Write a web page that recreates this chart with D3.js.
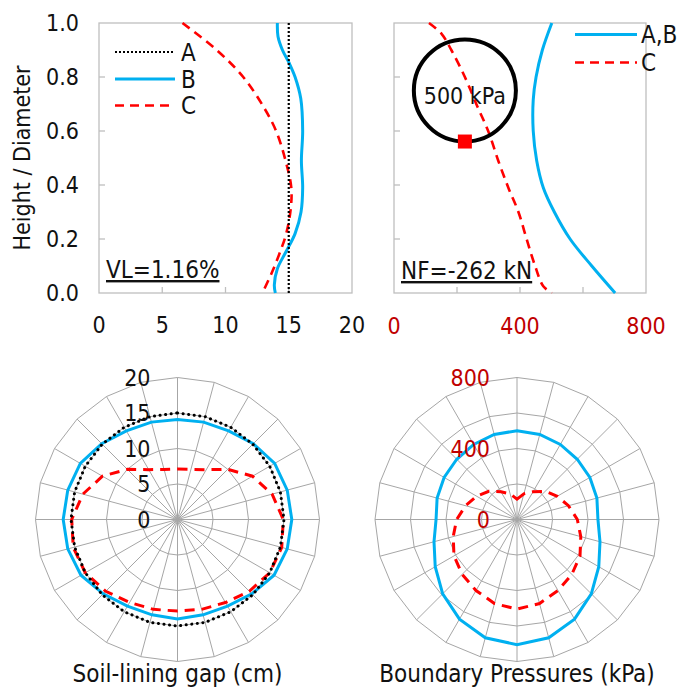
<!DOCTYPE html>
<html>
<head>
<meta charset="utf-8">
<script src="https://cdn.jsdelivr.net/npm/d3@7"></script>
<style>
  body { margin: 0; background: #fff; }
  text { font-family: "DejaVu Sans Condensed", "DejaVu Sans", sans-serif; fill: #111; }
</style>
</head>
<body>
<div class="chart"></div>
<script>
// Set up sizes
var svgWidth = 679;
var svgHeight = 689;

var blue = "#00b0f0";
var red = "#ff0000";
var darkRed = "#c00000";
var frameCol = "#bfbfbf";
var gridCol = "#a6a6a6";
var fs = 23;   // tick labels
var fsText = 24; // titles, legends, notes

// ---- data: top left (soil-lining gap, cm) ----
var gapTicks = [0, 5, 10, 15, 20];
var heightTicks = [0, 0.2, 0.4, 0.6, 0.8, 1.0];
var gapHeightA = [1.0, 0.0];
var gapA = [15, 15];
var gapHeightB = [1.0, 0.95, 0.9, 0.85, 0.8, 0.72, 0.6, 0.49, 0.39, 0.3, 0.22, 0.15, 0.09, 0.03, 0.0];
var gapB = [14.1, 14.15, 14.5, 15.05, 15.5, 15.95, 16.1, 16.0, 16.1, 15.97, 15.5, 14.75, 14.1, 13.86, 13.94];
var gapHeightC = [1.0, 0.9, 0.8, 0.69, 0.6, 0.49, 0.39, 0.31, 0.22, 0.15, 0.074, 0.012];
var gapC = [6.6, 9.3, 11.4, 13.0, 14.0, 14.75, 15.2, 15.15, 14.8, 14.3, 13.65, 13.04];

// ---- data: top right (boundary pressure, kPa) ----
var presTicks = [0, 400, 800];
var presMinorTicks = [200, 400, 600];
var presHeightAB = [1.0, 0.9, 0.8, 0.715, 0.6, 0.49, 0.39, 0.3, 0.2, 0.1, 0.0];
var presAB = [501, 471, 451, 442, 442, 453, 474, 509, 559, 628, 702];
var presHeightC = [1.0, 0.96, 0.9, 0.8, 0.69, 0.6, 0.49, 0.39, 0.3, 0.2, 0.1, 0.025, 0.0];
var presC = [111, 151, 182, 225, 265, 299, 331, 363, 395, 421, 448, 474, 501];
// annotation circle (kPa, height) and its radius in height units
var annotCentre = [225, 0.75];
var annotRadius = 0.189;

// ---- data: radar charts, 24 spokes clockwise from top ----
var gapRings = [5, 10, 15, 20];
var gapRingLabels = [0, 5, 10, 15, 20];
var radarGapA = [15, 15, 15, 15, 15, 15, 15, 15, 15, 15, 15, 15, 15, 15, 15, 15, 15, 15, 15, 15, 15, 15, 15, 15];
var radarGapB = [14.1, 14.2, 14.4, 15.1, 15.8, 16.0, 16.1, 16.0, 15.7, 14.8, 14.1, 13.9, 14.0, 13.9, 14.1, 14.8, 15.7, 16.0, 16.1, 16.0, 15.8, 15.1, 14.4, 14.2];
var radarGapC = [7.1, 7.3, 8.1, 10.0, 12.2, 13.8, 14.9, 15.2, 15.0, 14.3, 13.5, 13.1, 12.9, 13.1, 13.5, 14.3, 15.0, 15.2, 14.9, 13.8, 12.2, 10.0, 8.1, 7.3];

var presRings = [200, 400, 600, 800];
var presRingLabels = [0, 400, 800];
var radarPresAB = [500, 496, 488, 480, 474, 466, 456, 484, 532, 592, 648, 690, 705, 690, 648, 592, 532, 484, 456, 466, 474, 480, 488, 496];
var radarPresC = [115, 150, 180, 225, 262, 300, 340, 372, 410, 437, 462, 490, 505, 490, 462, 437, 410, 372, 340, 300, 262, 225, 180, 150];

var svg = d3.select(".chart")
  .append("svg")
  .attr("width", svgWidth)
  .attr("height", svgHeight);

// ---------- top panels ----------
var panelTop = 23, panelBottom = 293;

var xGap = d3.scaleLinear().domain([0, 20]).range([99, 352]);
var xPres = d3.scaleLinear().domain([0, 800]).range([394, 646]);
var yH = d3.scaleLinear().domain([0, 1]).range([panelBottom, panelTop]);

function drawFrame(xScale, xInner, yInner) {
  var g = svg.append("g");
  var r = xScale.range();
  g.append("rect")
    .attr("x", r[0]).attr("y", panelTop)
    .attr("width", r[1] - r[0]).attr("height", panelBottom - panelTop)
    .attr("fill", "none").attr("stroke", frameCol).attr("stroke-width", 1.3);
  g.selectAll(".xt").data(xInner).enter().append("line")
    .attr("x1", d => xScale(d)).attr("x2", d => xScale(d))
    .attr("y1", panelBottom).attr("y2", panelBottom - 6)
    .attr("stroke", frameCol).attr("stroke-width", 1.3);
  g.selectAll(".yt").data(yInner).enter().append("line")
    .attr("x1", r[0]).attr("x2", r[0] + 6)
    .attr("y1", d => yH(d)).attr("y2", d => yH(d))
    .attr("stroke", frameCol).attr("stroke-width", 1.3);
  return g;
}

function zipPts(xs, hs) {
  return xs.map((v, i) => [v, hs[i]]);
}

// top left
drawFrame(xGap, [5, 10, 15], [0.2, 0.4, 0.6, 0.8]);

svg.selectAll(".gapXLab").data(gapTicks).enter().append("text")
  .attr("x", d => xGap(d)).attr("y", 333)
  .attr("text-anchor", "middle").attr("font-size", fs)
  .text(d => d);

svg.selectAll(".hLab").data(heightTicks).enter().append("text")
  .attr("x", 79).attr("y", d => yH(d))
  .attr("dy", "0.36em")
  .attr("text-anchor", "end").attr("font-size", fs)
  .text(d => d.toFixed(1));

svg.append("text")
  .attr("transform", "translate(22," + yH(0.5) + ") rotate(-90)")
  .attr("dy", "0.36em")
  .attr("text-anchor", "middle").attr("font-size", fs)
  .text("Height / Diameter");

var gapLine = d3.line()
  .x(d => xGap(d[0])).y(d => yH(d[1]))
  .curve(d3.curveCatmullRom.alpha(0.5));

svg.append("path").datum(zipPts(gapC, gapHeightC))
  .attr("d", gapLine).attr("fill", "none")
  .attr("stroke", red).attr("stroke-width", 2.6).attr("stroke-dasharray", "9,6");
svg.append("path").datum(zipPts(gapB, gapHeightB))
  .attr("d", gapLine).attr("fill", "none")
  .attr("stroke", blue).attr("stroke-width", 3);
svg.append("path").datum(zipPts(gapA, gapHeightA))
  .attr("d", gapLine).attr("fill", "none")
  .attr("stroke", "#000").attr("stroke-width", 2.2).attr("stroke-dasharray", "2,2");

// legend top left
var legTL = [
  { name: "A", col: "#000", dash: "2,2", w: 2.2, y: 52 },
  { name: "B", col: blue, dash: null, w: 3, y: 79 },
  { name: "C", col: red, dash: "9,6", w: 2.6, y: 105.5 }
];
legTL.forEach(function(l) {
  svg.append("line").attr("x1", 115).attr("x2", 175).attr("y1", l.y).attr("y2", l.y)
    .attr("stroke", l.col).attr("stroke-width", l.w).attr("stroke-dasharray", l.dash);
  svg.append("text").attr("x", 181).attr("y", l.y).attr("dy", "0.36em")
    .attr("font-size", fsText).text(l.name);
});

svg.append("text")
  .attr("x", 106).attr("y", 278)
  .attr("font-size", fsText)
  .style("text-decoration", "underline")
  .text("VL=1.16%");

// top right
drawFrame(xPres, presMinorTicks, [0.2, 0.4, 0.6, 0.8]);

svg.selectAll(".presXLab").data(presTicks).enter().append("text")
  .attr("x", d => xPres(d)).attr("y", 334)
  .attr("text-anchor", "middle").attr("font-size", fs)
  .style("fill", darkRed)
  .text(d => d);

var presLine = d3.line()
  .x(d => xPres(d[0])).y(d => yH(d[1]))
  .curve(d3.curveCatmullRom.alpha(0.5));

svg.append("path").datum(zipPts(presAB, presHeightAB))
  .attr("d", presLine).attr("fill", "none")
  .attr("stroke", blue).attr("stroke-width", 3);
svg.append("path").datum(zipPts(presC, presHeightC))
  .attr("d", presLine).attr("fill", "none")
  .attr("stroke", red).attr("stroke-width", 2.6).attr("stroke-dasharray", "9,6");

// 500 kPa circle annotation
var annR = yH(0) - yH(annotRadius);
svg.append("circle")
  .attr("cx", xPres(annotCentre[0])).attr("cy", yH(annotCentre[1]))
  .attr("r", annR)
  .attr("fill", "none").attr("stroke", "#000").attr("stroke-width", 4);
svg.append("text")
  .attr("x", xPres(annotCentre[0])).attr("y", yH(annotCentre[1]) + 5)
  .attr("dy", "0.36em")
  .attr("text-anchor", "middle").attr("font-size", 23)
  .text("500 kPa");
svg.append("rect")
  .attr("x", xPres(annotCentre[0]) - 7)
  .attr("y", yH(annotCentre[1] - annotRadius) - 7)
  .attr("width", 14).attr("height", 14)
  .attr("fill", red);

var legTR = [
  { name: "A,B", col: blue, dash: null, w: 3, y: 34.5 },
  { name: "C", col: red, dash: "9,6", w: 2.6, y: 62.5 }
];
legTR.forEach(function(l) {
  svg.append("line").attr("x1", 575).attr("x2", 637).attr("y1", l.y).attr("y2", l.y)
    .attr("stroke", l.col).attr("stroke-width", l.w).attr("stroke-dasharray", l.dash);
  svg.append("text").attr("x", 641).attr("y", l.y).attr("dy", "0.36em")
    .attr("font-size", fsText).text(l.name);
});

svg.append("text")
  .attr("x", 401).attr("y", 279)
  .attr("font-size", fsText)
  .style("text-decoration", "underline")
  .text("NF=-262 kN");

// ---------- radar charts ----------
var nSpokes = 24;
var angleStep = 2 * Math.PI / nSpokes;
var radarR = 142;

function drawRadar(cx, cy, maxVal, rings, ringLabels, labelCol, series, title) {
  var rScale = d3.scaleLinear().domain([0, maxVal]).range([0, radarR]);
  var g = svg.append("g").attr("transform", `translate(${cx}, ${cy})`);
  var spokes = d3.range(nSpokes);

  var ringLine = d3.lineRadial()
    .angle((d, i) => i * angleStep)
    .radius(d => rScale(d))
    .curve(d3.curveLinearClosed);

  rings.forEach(function(v) {
    g.append("path").datum(spokes.map(() => v))
      .attr("d", ringLine).attr("fill", "none")
      .attr("stroke", gridCol).attr("stroke-width", 1);
  });
  g.selectAll(".spoke").data(spokes).enter().append("line")
    .attr("x1", 0).attr("y1", 0)
    .attr("x2", d => rScale(maxVal) * Math.sin(d * angleStep))
    .attr("y2", d => -rScale(maxVal) * Math.cos(d * angleStep))
    .attr("stroke", gridCol).attr("stroke-width", 1);

  series.forEach(function(s) {
    g.append("path").datum(s.values)
      .attr("d", ringLine).attr("fill", "none")
      .attr("stroke", s.col).attr("stroke-width", s.w)
      .attr("stroke-dasharray", s.dash)
      .attr("stroke-linecap", s.cap || "butt");
  });

  g.selectAll(".rl").data(ringLabels).enter().append("text")
    .attr("x", -27).attr("y", d => -rScale(d))
    .attr("dy", "0.36em")
    .attr("text-anchor", "end").attr("font-size", fs)
    .style("fill", labelCol)
    .text(d => d);

  svg.append("text")
    .attr("x", cx).attr("y", 682)
    .attr("text-anchor", "middle").attr("font-size", fsText)
    .text(title);
}

drawRadar(177.5, 519.5, 20, gapRings, gapRingLabels, "#111", [
  { values: radarGapC, col: red, w: 3, dash: "10,7" },
  { values: radarGapB, col: blue, w: 3, dash: null },
  { values: radarGapA, col: "#000", w: 3, dash: "0.1,5.5", cap: "round" }
], "Soil-lining gap (cm)");

drawRadar(517, 519.5, 800, presRings, presRingLabels, darkRed, [
  { values: radarPresAB, col: blue, w: 3, dash: null },
  { values: radarPresC, col: red, w: 3, dash: "10,7" }
], "Boundary Pressures (kPa)");
</script>
</body>
</html>
